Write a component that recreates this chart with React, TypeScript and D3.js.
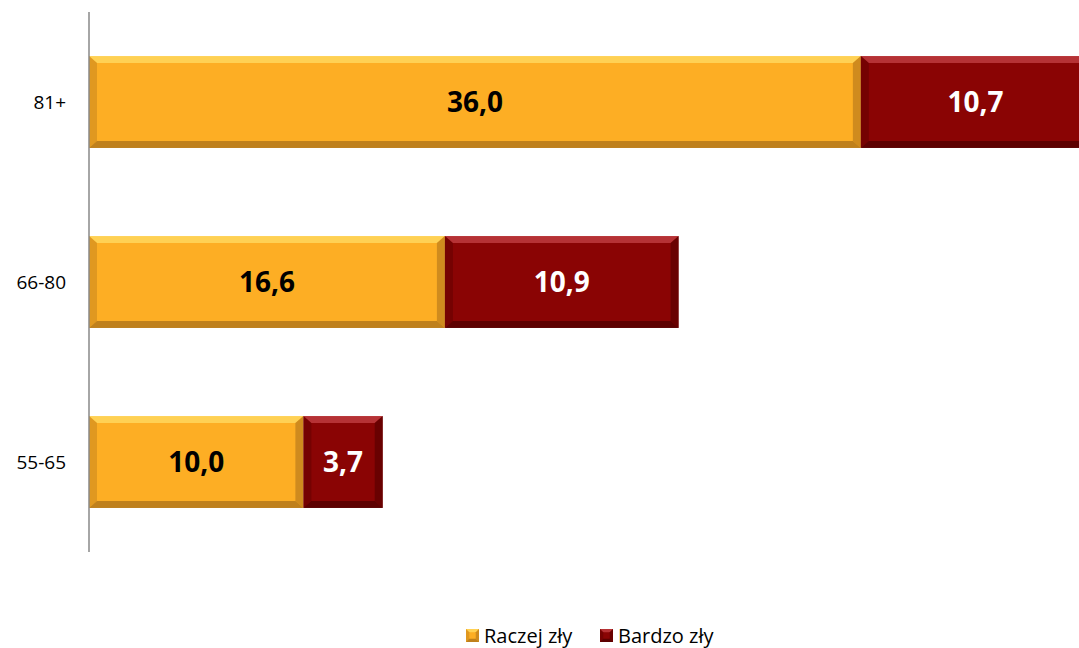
import React from 'react'
import * as d3 from 'd3'

const categories = ['81+', '66-80', '55-65']
const raczej = [36.0, 16.6, 10.0]
const bardzo = [10.7, 10.9, 3.7]
const seriesNames = ['Raczej zły', 'Bardzo zły']
const colors = ['#FDAE24', '#8A0404']
const light = ['#FFE06A', '#C9464A']
const dark = ['#A9701A', '#4E0000']

const W = 1079
const H = 648
const font = "'Open Sans', 'Noto Sans', sans-serif"

function Bevel({ x0, x1, y0, y1, i }: { x0: number; x1: number; y0: number; y1: number; i: number }) {
  const b = Math.min(8, (x1 - x0) / 4)
  const bt = Math.min(7, (y1 - y0) / 4)
  return (
    <g>
      <rect x={x0} y={y0} width={x1 - x0} height={y1 - y0} fill={colors[i]} />
      <polygon points={`${x0},${y0} ${x1},${y0} ${x1 - b},${y0 + bt} ${x0 + b},${y0 + bt}`} fill={light[i]} opacity={0.7} />
      <polygon points={`${x0},${y0} ${x0 + b},${y0 + bt} ${x0 + b},${y1 - bt} ${x0},${y1}`} fill={dark[i]} opacity={0.35} />
      <polygon points={`${x1},${y0} ${x1 - b},${y0 + bt} ${x1 - b},${y1 - bt} ${x1},${y1}`} fill={dark[i]} opacity={0.55} />
      <polygon points={`${x0},${y1} ${x1},${y1} ${x1 - b},${y1 - bt} ${x0 + b},${y1 - bt}`} fill={dark[i]} opacity={0.75} />
    </g>
  )
}

export default function App() {
  const x = d3.scaleLinear().domain([0, 50]).range([89, 89 + 50 * 21.44])
  const y = d3.scaleBand().domain(categories).range([12, 552]).paddingInner(0.49).paddingOuter(0.245)
  const fmt = (v: number) => v.toFixed(1).replace('.', ',')

  return (
    <svg width={W} height={H} style={{ position: 'absolute', left: 0, top: 0, background: '#fff' }}>
      {categories.map((c, k) => {
        const y0 = y(c)!
        const y1 = y0 + y.bandwidth()
        const a = raczej[k]
        const b = bardzo[k]
        return (
          <g key={c}>
            <Bevel x0={x(0)} x1={x(a)} y0={y0} y1={y1} i={0} />
            <Bevel x0={x(a)} x1={x(a + b)} y0={y0} y1={y1} i={1} />
            <text x={(x(0) + x(a)) / 2} y={(y0 + y1) / 2} dy="0.36em" textAnchor="middle"
              fontFamily={font} fontWeight="bold" fontSize={28} fill="#000">{fmt(a)}</text>
            <text x={(x(a) + x(a + b)) / 2} y={(y0 + y1) / 2} dy="0.36em" textAnchor="middle"
              fontFamily={font} fontWeight="bold" fontSize={28} fill="#fff">{fmt(b)}</text>
            <text x={66} y={(y0 + y1) / 2} dy="0.36em" textAnchor="end"
              fontFamily={font} fontSize={19} fill="#000">{c}</text>
          </g>
        )
      })}
      <line x1={89} x2={89} y1={12} y2={552} stroke="#888" strokeWidth={1.5} />
      {seriesNames.map((s, i) => {
        const lx = i === 0 ? 466 : 600
        return (
          <g key={s}>
            <Bevel x0={lx} x1={lx + 13} y0={629} y1={642} i={i} />
            <text x={lx + 18} y={636} dy="0.36em" fontFamily={font} fontSize={20} fill="#000">{s}</text>
          </g>
        )
      })}
    </svg>
  )
}
